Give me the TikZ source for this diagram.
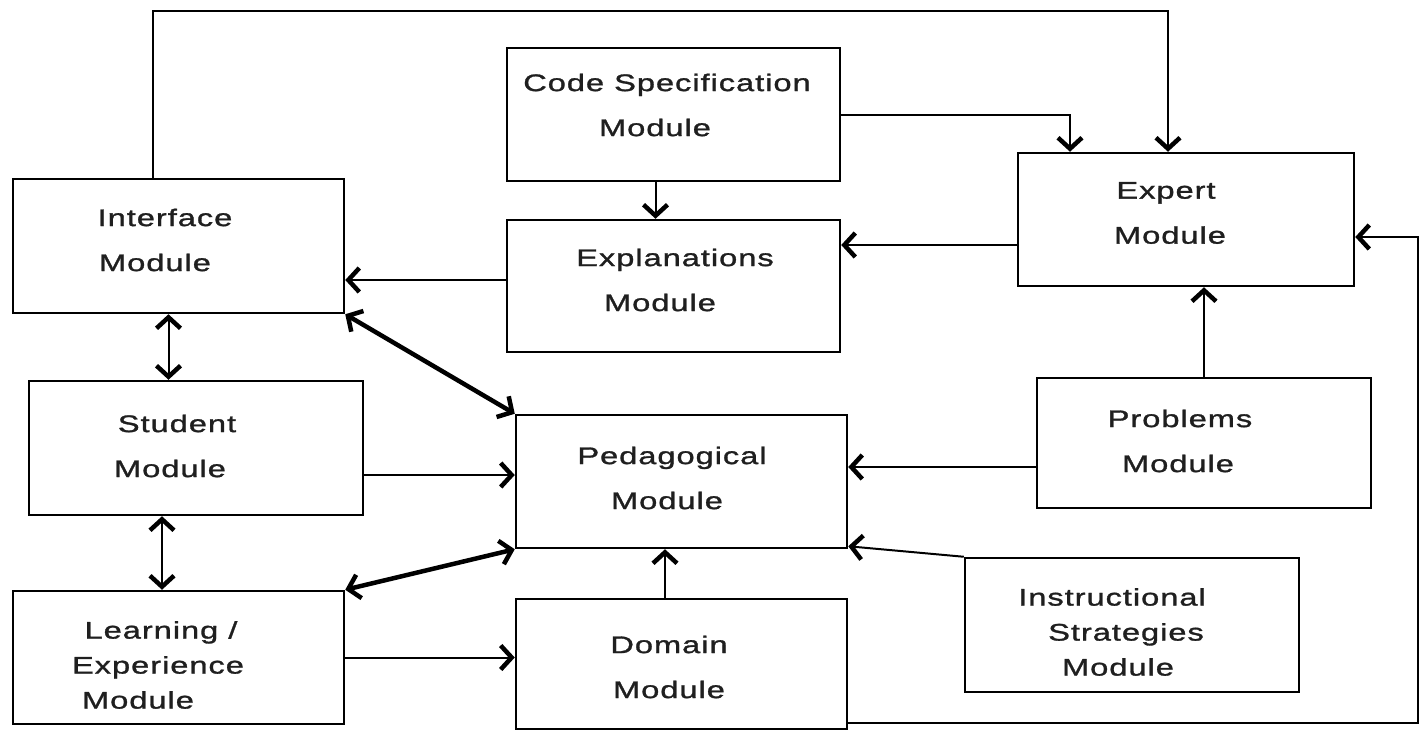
\documentclass[tikz,border=0pt]{standalone}
\usepackage{fontspec}
\usetikzlibrary{arrows.meta,calc}
\newfontfamily\lblfont[FakeStretch=1.36,LetterSpace=4,FakeBold=1.2]{Liberation Sans}
\newcommand\lsh[1]{\hspace*{#1}}
\tikzset{
  modbox/.style={draw=black, line width=2.5pt, fill=white, inner sep=0pt},
  modtext/.style={align=center, font={\lblfont\fontsize{24pt}{45pt}\selectfont}, text=black!88, inner sep=0pt},
  modtext3/.style={modtext, font={\lblfont\fontsize{24pt}{35pt}\selectfont}},
  barb/.tip={Straight Barb[length=11pt,width=24pt,line width=4.5pt]},
  conn/.style={draw=black, line width=2pt, -barb},
  dconn/.style={draw=black, line width=2pt, barb-barb},
  thickconn/.style={draw=black, line width=4.5pt, barb-barb}
}
\begin{document}
\begin{tikzpicture}[x=1pt,y=-1pt]
\useasboundingbox[fill=white] (0,0) rectangle (1425,731);
% boxes
\node[modbox, minimum width=331pt, minimum height=134pt] (iface)   at (178.5,246) {};
\node[modbox, minimum width=333pt, minimum height=133pt] (code)    at (673.5,114.5) {};
\node[modbox, minimum width=336pt, minimum height=133pt] (expert)  at (1186,219.5) {};
\node[modbox, minimum width=333pt, minimum height=132pt] (expl)    at (673.5,286) {};
\node[modbox, minimum width=334pt, minimum height=134pt] (student) at (196,448) {};
\node[modbox, minimum width=331pt, minimum height=133pt] (ped)     at (681.5,481.5) {};
\node[modbox, minimum width=334pt, minimum height=130pt] (prob)    at (1204,443) {};
\node[modbox, minimum width=331pt, minimum height=133pt] (learn)   at (178.5,657.5) {};
\node[modbox, minimum width=331pt, minimum height=130pt] (domain)  at (681.5,664) {};
\node[modbox, minimum width=334pt, minimum height=134pt] (instr)   at (1132,625) {};
% texts
\node[modtext]  (iface-t)   at (160,240)  {\lsh{10pt}Interface\\\lsh{-10pt}Module};
\node[modtext]  (code-t)    at (664,105)  {\lsh{6pt}Code Specification\\\lsh{-18pt}Module};
\node[modtext]  (expert-t)  at (1168,213) {\lsh{-4pt}Expert\\\lsh{4pt}Module};
\node[modtext]  (expl-t)    at (668,280)  {\lsh{14pt}Explanations\\\lsh{-16pt}Module};
\node[modtext]  (student-t) at (174,446)  {\lsh{6pt}Student\\\lsh{-8pt}Module};
\node[modtext]  (ped-t)     at (670,478)  {\lsh{4pt}Pedagogical\\\lsh{-6pt}Module};
\node[modtext]  (prob-t)    at (1180,441) {Problems\\\lsh{-4pt}Module};
\node[modtext3] (learn-t)   at (155,665)  {\lsh{12pt}Learning /\\\lsh{6pt}Experience\\\lsh{-34pt}Module};
\node[modtext]  (domain-t)  at (669,667)  {Domain\\Module};
\node[modtext3] (instr-t)   at (1118,632) {\lsh{-12pt}Instructional\\\lsh{16pt}Strategies\\Module};
% helper coordinates
\coordinate (topR) at (1168,11);
\coordinate (rightR) at (1418,237);
% connectors
\draw[conn] ([xshift=-25.5pt]iface.north) |- (topR) -- ([xshift=-18pt]expert.north);
\draw[conn] (code.east) -| ([xshift=-116pt]expert.north);
\draw[conn] ([xshift=-18pt]code.south) -- ([xshift=-18pt]expl.north);
\draw[conn] ([yshift=-25.5pt]expert.west) coordinate (e1) -- (e1 -| expl.east);
\draw[conn] ([yshift=6pt]expl.west) coordinate (x1) -- (x1 -| iface.east);
\draw[dconn] ([xshift=-10pt]iface.south) coordinate (i1) -- (i1 |- student.north);
\draw[thickconn] (iface.south east) -- (ped.north west);
\draw[conn] ([yshift=-27pt]student.east) coordinate (s1) -- (s1 -| ped.west);
\draw[dconn] ([xshift=-34pt]student.south) coordinate (s2) -- (s2 |- learn.north);
\draw[thickconn] (learn.north east) -- (ped.south west);
\draw[conn] (learn.east) coordinate (l1) -- (l1 -| domain.west);
\draw[conn] ([xshift=-16.5pt]domain.north) coordinate (d1) -- (d1 |- ped.south);
\draw[conn] ([yshift=-24pt]prob.west) coordinate (p1) -- (p1 -| ped.east);
\draw[conn] (prob.north) coordinate (p2) -- (p2 |- expert.south);
\draw[conn] (instr.north west) -- ([yshift=3pt]ped.south east);
\draw[conn] ([yshift=7pt]domain.south east) -| (rightR) -- (rightR -| expert.east);
\end{tikzpicture}
\end{document}
